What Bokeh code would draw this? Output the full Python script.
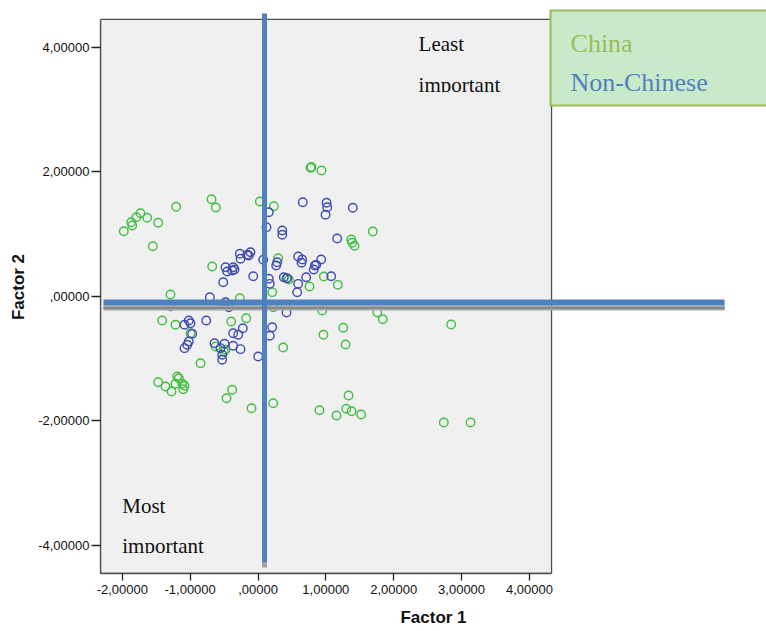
from bokeh.plotting import figure
from bokeh.models import Range1d, FixedTicker
from bokeh.embed import file_html
from bokeh.resources import INLINE
from bokeh.core.properties import value

# ---------------- data ----------------
china_x = [-1.978, -1.869, -1.854, -1.791, -1.732, -1.633, -1.471, -1.550, -1.206, -0.685,
           -0.622, 0.027, 0.233, -0.675, -1.290, -0.268, 0.298, 0.416, 0.209, 0.774,
           0.788, 0.936, 1.692, 1.374, 1.388, 1.422, 0.970, 1.176, 0.759, 0.454,
           -1.290, -1.412, -1.216, -0.995, -0.395, -0.174, -0.626, -0.479, -0.504, -0.847,
           0.371, 0.224, -1.471, -1.363, -1.275, -1.191, -1.167, -1.216, -1.117, -1.083,
           -1.102, -0.380, -0.464, -0.096, 0.224, 0.946, 1.757, 1.839, 2.847, 1.256,
           0.965, 1.290, 1.334, 0.906, 1.157, 1.300, 1.378, 1.521, 2.738, 3.132]
china_y = [1.046, 1.190, 1.137, 1.271, 1.335, 1.261, 1.181, 0.805, 1.438, 1.560,
           1.426, 1.523, 1.447, 0.479, 0.030, -0.030, 0.612, 0.291, 0.067, 2.064,
           2.077, 2.020, 1.041, 0.913, 0.860, 0.812, 0.319, 0.185, 0.158, 0.271,
           -0.163, -0.388, -0.457, -0.592, -0.404, -0.351, -0.805, -0.858, -0.885, -1.073,
           -0.821, -0.174, -1.378, -1.447, -1.528, -1.287, -1.314, -1.404, -1.404, -1.436,
           -1.491, -1.500, -1.635, -1.796, -1.715, -0.227, -0.259, -0.367, -0.452, -0.505,
           -0.617, -0.773, -1.592, -1.828, -1.913, -1.805, -1.844, -1.897, -2.025, -2.025]

nonchinese_x = [0.159, 0.125, 0.357, 0.357, -0.268, -0.258, -0.159, -0.111, -0.136, 0.077,
                -0.479, -0.454, -0.366, -0.346, -0.380, -0.513, -0.071, 0.283, 0.268, 0.159,
                0.174, 0.380, -0.710, -0.479, 0.660, 1.010, 1.020, 0.995, 1.397, 1.167,
                0.592, 0.651, 0.641, 0.931, 0.837, 0.822, 0.858, 1.079, 0.710, 0.592,
                0.578, 0.430, -1.020, -0.995, -1.083, -0.763, -0.970, -1.020, -1.043, -1.083,
                -0.641, -0.553, -0.494, -0.528, -0.528, -0.366, -0.366, -0.292, -0.224, -0.258,
                0.003, 0.209, 0.174, 0.420, -0.504, -0.430]
nonchinese_y = [1.351, 1.110, 1.057, 0.988, 0.683, 0.603, 0.667, 0.709, 0.656, 0.587,
                0.468, 0.399, 0.468, 0.431, 0.415, 0.227, 0.323, 0.548, 0.495, 0.282,
                0.201, 0.307, -0.014, -0.094, 1.511, 1.502, 1.431, 1.309, 1.422, 0.929,
                0.640, 0.592, 0.539, 0.592, 0.495, 0.431, 0.506, 0.323, 0.307, 0.201,
                0.067, 0.291, -0.388, -0.431, -0.457, -0.388, -0.601, -0.725, -0.778, -0.832,
                -0.752, -0.832, -0.762, -0.938, -1.019, -0.794, -0.592, -0.617, -0.511, -0.848,
                -0.966, -0.495, -0.633, -0.259, -0.136, -0.174]

x_ticks = [-2, -1, 0, 1, 2, 3, 4]
x_tick_labels = ["-2,00000", "-1,00000", ",00000", "1,00000", "2,00000", "3,00000", "4,00000"]
y_ticks = [-4, -2, 0, 2, 4]
y_tick_labels = ["-4,00000", "-2,00000", ",00000", "2,00000", "4,00000"]

vline_x = 0.096      # vertical reference line (Factor 1)
hline_y = -0.099     # horizontal reference line (Factor 2)

series_names = ["China", "Non-Chinese"]

# ---------------- layout constants ----------------
X0, X1 = -2.3213, 7.4937        # whole frame (extends right past the plot box)
Y0, Y1 = -4.4494, 4.7496
BX0, BX1 = -2.3213, 4.326       # the grey plot box
BY0, BY1 = -4.4494, 4.445

GREEN = "#3fbf3f"
BLUE = "#3f4ab3"
LINE_BLUE = "#4f81bd"

p = figure(width=766, height=631, output_backend="svg", toolbar_location=None,
           x_range=Range1d(X0, X1), y_range=Range1d(Y0, Y1),
           min_border_left=100, min_border_right=0, min_border_top=0, min_border_bottom=58)
p.background_fill_color = "white"
p.border_fill_color = "white"
p.outline_line_color = None
p.grid.visible = False

# plot box
p.quad(left=[BX0], right=[BX1], bottom=[BY0], top=[BY1],
       fill_color="#f0f0f0", line_color="#4d4d4d", line_width=1.3)

# points
p.scatter(china_x, china_y, marker="circle", size=8.5, fill_color=None,
          line_color=GREEN, line_width=1.4)
p.scatter(nonchinese_x, nonchinese_y, marker="circle", size=8.5, fill_color=None,
          line_color=BLUE, line_width=1.4)

# reference lines (with grey shadow like the original)
p.line([-2.277, 6.876], [hline_y - 0.089] * 2, line_color="#a8a8a8", line_width=5)
p.line([-2.277, 6.876], [hline_y - 0.089] * 2, line_color="#666666", line_width=2, line_dash="1 1")
p.line([-2.277, 6.876], [hline_y] * 2, line_color=LINE_BLUE, line_width=6)
p.line([vline_x] * 2, [-4.273, -4.353], line_color="#a0a0a0", line_width=5)
p.line([vline_x] * 2, [4.541, -4.273], line_color=LINE_BLUE, line_width=5)

# quadrant captions (second line is clipped in the original)
serif = value("Liberation Serif")
p.text(x=[2.366, 2.366], y=[4.048, 3.396], text=["Least", "important"],
       text_font=serif, text_font_size="21px", text_color="#111111",
       text_baseline="alphabetic", text_align="left")
p.text(x=[-2.001, -2.001], y=[-3.363, -4.000], text=["Most", "important"],
       text_font=serif, text_font_size="21px", text_color="#111111",
       text_baseline="alphabetic", text_align="left")
p.quad(left=[2.248, -2.100], right=[3.721, -0.700], bottom=[3.120, -4.30], top=[3.277, -4.123],
       fill_color="#f0f0f0", line_color=None)

# legend box
p.quad(left=[4.311], right=[8.0], bottom=[3.064], top=[4.589],
       fill_color="#c8eacb", line_color="#9bbb59", line_width=2)
p.text(x=[4.606, 4.606], y=[4.065, 3.436], text=series_names,
       text_font=serif, text_font_size="26px", text_color=["#9bbb59", LINE_BLUE],
       text_baseline="alphabetic", text_align="left")

# axes
for ax, ticks, labels, bounds in ((p.xaxis, x_ticks, x_tick_labels, (BX0, BX1)),
                                  (p.yaxis, y_ticks, y_tick_labels, (BY0, BY1))):
    ax.ticker = FixedTicker(ticks=ticks)
    ax.major_label_overrides = {t: l for t, l in zip(ticks, labels)}
    ax.bounds = bounds
    ax.minor_tick_line_color = None
    ax.major_tick_in = 0
    ax.axis_line_color = "#4d4d4d"
    ax.axis_line_width = 1.3
    ax.major_tick_line_color = "#222222"
    ax.major_tick_line_width = 1.3
    ax.major_label_text_font = "Liberation Sans"
    ax.major_label_text_font_size = "13px"
    ax.major_label_text_color = "#111111"
    ax.axis_label_text_font = "Liberation Sans"
    ax.axis_label_text_font_style = "bold"
    ax.axis_label_text_font_size = "17px"
    ax.axis_label_text_color = "#111111"

p.xaxis.axis_label = "Factor 1"
p.yaxis.axis_label = "Factor 2"
p.xaxis.major_tick_out = 7
p.yaxis.major_tick_out = 9
p.xaxis.major_label_standoff = 4
p.yaxis.major_label_standoff = 2
p.xaxis.axis_label_standoff = 11
p.yaxis.axis_label_standoff = 7

open("out.html", "w").write(file_html(p, INLINE))
